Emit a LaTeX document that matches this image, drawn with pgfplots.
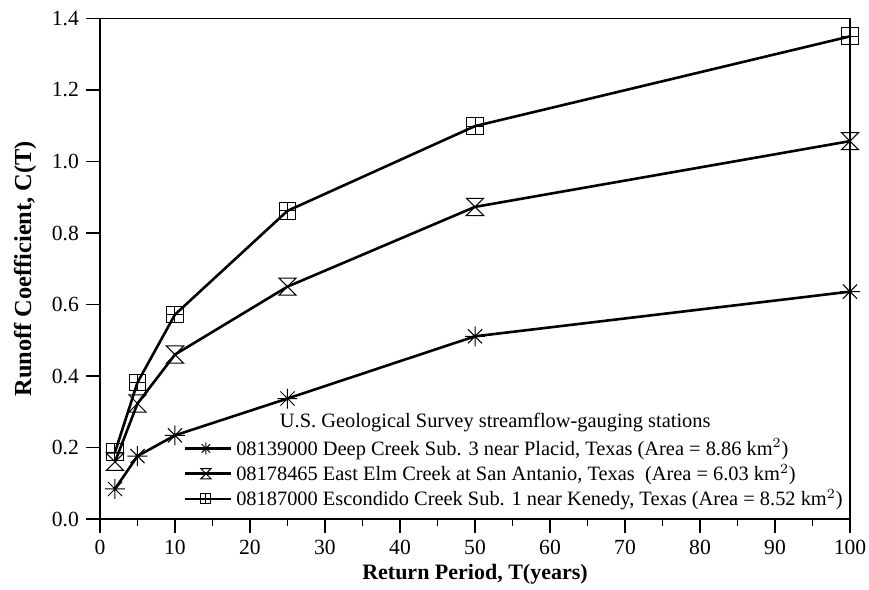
\documentclass[border=0pt]{standalone}
\usepackage{fontspec}
\setmainfont{Liberation Serif}
\usepackage{pgfplots}
\pgfplotsset{compat=1.18}

\pgfdeclareplotmark{ast8}{%
 \pgfpathmoveto{\pgfqpoint{-\pgfplotmarksize}{0pt}}\pgfpathlineto{\pgfqpoint{\pgfplotmarksize}{0pt}}%
 \pgfpathmoveto{\pgfqpoint{0pt}{-\pgfplotmarksize}}\pgfpathlineto{\pgfqpoint{0pt}{\pgfplotmarksize}}%
 \pgfpathmoveto{\pgfqpoint{-0.707\pgfplotmarksize}{-0.707\pgfplotmarksize}}\pgfpathlineto{\pgfqpoint{0.707\pgfplotmarksize}{0.707\pgfplotmarksize}}%
 \pgfpathmoveto{\pgfqpoint{-0.707\pgfplotmarksize}{0.707\pgfplotmarksize}}\pgfpathlineto{\pgfqpoint{0.707\pgfplotmarksize}{-0.707\pgfplotmarksize}}%
 \pgfusepathqstroke}
\pgfdeclareplotmark{hglass}{%
 \pgfpathmoveto{\pgfqpoint{-\pgfplotmarksize}{\pgfplotmarksize}}%
 \pgfpathlineto{\pgfqpoint{\pgfplotmarksize}{\pgfplotmarksize}}%
 \pgfpathlineto{\pgfqpoint{-\pgfplotmarksize}{-\pgfplotmarksize}}%
 \pgfpathlineto{\pgfqpoint{\pgfplotmarksize}{-\pgfplotmarksize}}%
 \pgfpathclose
 \pgfusepathqstroke}
\pgfdeclareplotmark{bplus}{%
 \pgfpathrectangle{\pgfqpoint{-\pgfplotmarksize}{-\pgfplotmarksize}}{\pgfqpoint{2\pgfplotmarksize}{2\pgfplotmarksize}}%
 \pgfpathmoveto{\pgfqpoint{-\pgfplotmarksize}{0pt}}\pgfpathlineto{\pgfqpoint{\pgfplotmarksize}{0pt}}%
 \pgfpathmoveto{\pgfqpoint{0pt}{-\pgfplotmarksize}}\pgfpathlineto{\pgfqpoint{0pt}{\pgfplotmarksize}}%
 \pgfusepathqstroke}

\begin{document}
\begin{tikzpicture}
\useasboundingbox (-50pt,-35.5pt) rectangle (384.5pt,259.5pt);
\begin{axis}[
  at={(0pt,0pt)}, anchor=south west,
  scale only axis, width=375pt, height=250.25pt,
  xmin=0, xmax=100, ymin=0, ymax=1.4,
  xtick={0,10,...,100}, minor xtick={5,15,...,95},
  ytick={0,0.2,...,1.4},
  xtick pos=bottom, ytick pos=left,
  tick align=outside,
  major tick length=7pt, minor tick length=3.5pt,
  axis line style={line width=0.75pt},
  every tick/.style={line width=0.75pt, black},
  /pgf/number format/assume math mode=true,
  y tick label style={/pgf/number format/.cd, fixed, fixed zerofill, precision=1},
  ticklabel style={font=\fontsize{10.8}{12}\selectfont},
  xlabel={Return Period, T(years)},
  ylabel={Runoff Coefficient, C(T)},
  xlabel style={font=\fontsize{11}{13}\selectfont\bfseries, yshift=2pt},
  ylabel style={font=\fontsize{12.2}{14}\selectfont\bfseries, yshift=1pt},
  legend style={at={(rel axis cs:0.996,0.012)}, anchor=south east, draw=none, fill=none,
    font=\fontsize{10.2}{11.5}\selectfont, row sep=-1pt, inner sep=0pt},
  legend cell align=left,
  legend image code/.code={\draw[mark repeat=2,mark phase=2,mark options={line width=0.5pt, solid, scale=0.6}]
     plot coordinates {(0cm,0cm) (0.37cm,0cm) (0.74cm,0cm)};
     \path (0.74cm,0cm) -- (0.74cm+2pt,0cm);},
  every axis plot/.append style={line width=1.3pt, black, mark options={line width=0.5pt, solid}},
]
\addplot[mark=ast8, mark size=5pt] coordinates {(2,0.084) (5,0.176) (10,0.234) (25,0.337) (50,0.511) (100,0.636)};
\addlegendentry{08139000 Deep Creek Sub. 3 near Placid, Texas (Area = 8.86 km$^2$)}
\addplot[mark=hglass, mark size=4.3pt] coordinates {(2,0.16) (5,0.323) (10,0.46) (25,0.65) (50,0.873) (100,1.057)};
\addlegendentry{08178465 East Elm Creek at San Antanio, Texas \ (Area = 6.03 km$^2$)}
\addplot[mark=bplus, mark size=4.2pt] coordinates {(2,0.187) (5,0.382) (10,0.572) (25,0.862) (50,1.099) (100,1.35)};
\addlegendentry{08187000 Escondido Creek Sub. 1 near Kenedy, Texas (Area = 8.52 km$^2$)}
\node[font=\fontsize{10.2}{12}\selectfont] at (axis cs:52.7,0.27) {U.S. Geological Survey streamflow-gauging stations};
\end{axis}
\end{tikzpicture}
\end{document}
